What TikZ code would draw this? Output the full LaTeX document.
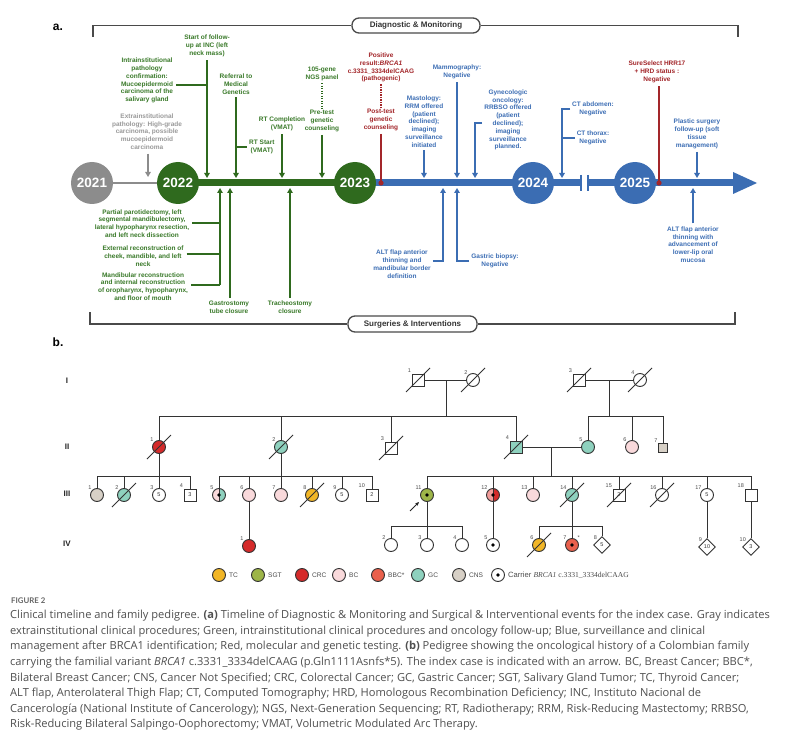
\documentclass[tikz,border=0pt]{standalone}
\usepackage{fontspec}
\setmainfont{Liberation Sans}
\newfontfamily\tlf{Liberation Sans}
\newfontfamily\capf{Open Sans}
\newfontfamily\figf{Lato}
\newfontfamily\serf{Liberation Serif}
\usetikzlibrary{arrows.meta,shapes.geometric}
\definecolor{tgray}{HTML}{8C8C8C}
\definecolor{txgray}{HTML}{9A9A9A}
\definecolor{tgrn}{HTML}{2F6A1E}
\definecolor{tgrntx}{HTML}{3A7A2A}
\definecolor{tblu}{HTML}{3B6DB3}
\definecolor{tblutx}{HTML}{3E6FB5}
\definecolor{tred}{HTML}{A3262A}
\definecolor{brk}{HTML}{4A4A4A}
\definecolor{cTC}{HTML}{F2B626}
\definecolor{cSGT}{HTML}{9DB548}
\definecolor{cCRC}{HTML}{D52A2A}
\definecolor{cBC}{HTML}{F9D9DB}
\definecolor{cBBC}{HTML}{E9604C}
\definecolor{cGC}{HTML}{8ED1BE}
\definecolor{cCNS}{HTML}{D7D0C6}
\definecolor{cBCd}{HTML}{F19C9A}
\definecolor{pline}{HTML}{333333}
\definecolor{capc}{HTML}{4F4F4F}
\newcommand\pdec[1]{\draw[pl] ([shift={(-12,12)}]#1.center) -- ([shift={(12,-12)}]#1.center);}
\begin{document}
\begin{tikzpicture}[x=1pt,y=-1pt,
  tl/.style={font=\tlf\bfseries\fontsize{6.5}{7.8}\selectfont, align=center, inner sep=0pt},
  gt/.style={tl,text=tgrntx}, bt/.style={tl,text=tblutx}, rt/.style={tl,text=tred}, xt/.style={tl,text=txgray},
  ar/.style={-{Triangle[length=5pt,width=5.5pt]}, line width=1.3pt},
  garr/.style={ar,draw=tgrn}, barr/.style={ar,draw=tblu}, xarr/.style={ar,draw=tgray},
  gln/.style={line width=1.3pt,draw=tgrn}, bln/.style={line width=1.3pt,draw=tblu}, rln/.style={line width=1.3pt,draw=tred},
  yr/.style={circle, minimum size=42pt, inner sep=0pt, font=\tlf\bfseries\fontsize{13.5}{14}\selectfont, text=white},
  bk/.style={line width=1.3pt, draw=brk},
  lbox/.style={draw=brk, line width=1.3pt, rounded corners=7pt, minimum height=15pt, inner sep=0pt, font=\tlf\bfseries\fontsize{8}{9}\selectfont, text=black!80, fill=white},
  pl/.style={draw=pline, line width=0.9pt},
  pbase/.style={draw=pline, line width=0.9pt, inner sep=0pt, fill=white, font=\tlf\fontsize{5.5}{6}\selectfont, text=pline},
  ci/.style={pbase, circle, minimum size=13pt},
  sq/.style={pbase, rectangle, minimum size=12pt},
  dm/.style={pbase, diamond, minimum size=17pt},
  lab/.style={font=\tlf\fontsize{5.5}{6}\selectfont, text=black!70, inner sep=0.5pt},
  half/.style 2 args={fill=#2, path picture={\fill[#1] (path picture bounding box.north west) rectangle (path picture bounding box.south); \draw[pline, line width=0.5pt] (path picture bounding box.north) -- (path picture bounding box.south);}},
  lgt/.style={font=\tlf\fontsize{6.6}{7}\selectfont, text=black!70, anchor=west, inner sep=0pt},
  genl/.style={font=\tlf\bfseries\fontsize{8}{9}\selectfont, text=black!85}
]
\useasboundingbox (0,0) rectangle (800,738);
\fill[white] (0,0) rectangle (800,738);

% panel letters
\node[font=\tlf\bfseries\fontsize{12}{13}\selectfont] (la) at (58,27) {a.};
\node[font=\tlf\bfseries\fontsize{12}{13}\selectfont] (lb) at (58,342) {b.};

% brackets
\node[lbox, minimum width=128pt] (dmb) at (416,25.5) {Diagnostic \& Monitoring};
\coordinate (dl) at (93,37); \coordinate (dr) at (738,37);
\draw[bk] (dl) |- (dmb.west);
\draw[bk] (dmb.east) -| (dr);
\node[lbox, minimum width=129pt, minimum height=16pt] (sib) at (412.5,324) {Surgeries \& Interventions};
\coordinate (sl) at (90,312); \coordinate (sr) at (735,312);
\draw[bk] (sl) |- (sib.west);
\draw[bk] (sib.east) -| (sr);

% axis
\coordinate (c21) at (92,183); \coordinate (c22) at (178,183); \coordinate (c23) at (355,183);
\coordinate (c24) at (533,183); \coordinate (c25) at (635,183);
\coordinate (bk1) at (581,183); \coordinate (bk2) at (588,183); \coordinate (ahd) at (735,183);
\draw[tgray, line width=1.5pt] (c21) -- (c22);
\draw[tgrn, line width=7pt] (c22) -- (c23);
\draw[tblu, line width=7pt] (c23) -- (bk1);
\draw[tblu, line width=7pt] (bk2) -- (ahd);
\fill[tblu] (733,172) -- (757,183) -- (733,194) -- cycle;
\draw[tblu, line width=1.6pt] ([yshift=8pt]bk1) -- ([yshift=-8pt]bk1);
\draw[tblu, line width=1.6pt] ([yshift=8pt]bk2) -- ([yshift=-8pt]bk2);
\node[yr, fill=tgray] (y21) at (c21) {2021};
\node[yr, fill=tgrn] (y22) at (c22) {2022};
\node[yr, fill=tgrn] (y23) at (c23) {2023};
\node[yr, fill=tblu] (y24) at (c24) {2024};
\node[yr, fill=tblu] (y25) at (c25) {2025};
\coordinate (rd1) at (381,183); \coordinate (rd2) at (659,183);

% gray
\node[xt] (g1) at (147,131.5) {Extrainstitutional\\pathology: High-grade\\carcinoma, possible\\mucoepidermoid\\carcinoma};
\coordinate (ag) at (148,177);
\draw[xarr] ([yshift=-4pt]ag |- g1.south) -- (ag);

% green top
\node[gt] (t1) at (147,80.5) {Intrainstitutional\\pathology\\confirmation:\\Mucoepidermoid\\carcinoma of the\\salivary gland};
\node[gt] (t2) at (207,46) {Start of follow-\\up at INC (left\\neck mass)};
\coordinate (a2) at (207,178); \coordinate (j1) at (207,85);
\draw[garr] ([yshift=-3pt]t2.south) -- (a2);
\draw[gln] ([xshift=3pt]t1.east |- j1) -- (j1);
\node[gt] (t3) at (236,84) {Referral to\\Medical\\Genetics};
\coordinate (a3) at (236,178);
\draw[garr] ([yshift=-3pt]t3.south) -- (a3);
\node[gt, anchor=west] (t4) at (249,147) {RT Start\\(VMAT)};
\draw[gln] (a3 |- t4.west) -- ([xshift=-2pt]t4.west);
\node[gt] (t5) at (282,124) {RT Completion\\(VMAT)};
\coordinate (a5) at (282,178);
\draw[garr] ([yshift=-3pt]t5.south) -- (a5);
\node[gt] (t6) at (322,74) {105-gene\\NGS panel};
\node[gt] (t7) at (322,121) {Pre-test\\genetic\\counseling};
\coordinate (a7) at (322,178);
\draw[gln, dash pattern=on 1.4pt off 1.1pt] ([yshift=-2pt]t6.south) -- ([yshift=2pt]t7.north);
\draw[garr] ([yshift=-3pt]t7.south) -- (a7);

% red
\node[rt] (r1t) at (381,67.5) {Positive\\result:\textit{BRCA1}\\c.3331\_3334delCAAG\\(pathogenic)};
\node[rt] (r2t) at (381,120) {Post-test\\genetic\\counseling};
\draw[rln, dash pattern=on 1.4pt off 1.1pt] ([yshift=-2pt]r1t.south) -- ([yshift=2pt]r2t.north);
\draw[rln] ([yshift=-3pt]r2t.south) -- (rd1);
\node[rt] (r3t) at (657,72) {SureSelect HRR17\\+ HRD status :\\Negative};
\draw[rln] ([yshift=-3pt]rd2 |- r3t.south) -- (rd2);
\fill[tred] (rd1) circle (2.6pt);
\fill[tred] (rd2) circle (2.6pt);

% blue top
\node[bt] (b1) at (424,121.5) {Mastology:\\RRM offered\\(patient\\declined);\\imaging\\surveillance\\initiated};
\coordinate (ab1) at (424,178);
\draw[barr] ([yshift=-3pt]b1.south) -- (ab1);
\node[bt] (b2) at (457,72) {Mammography:\\Negative};
\coordinate (ab2) at (457,178);
\draw[barr] ([yshift=-3pt]b2.south) -- (ab2);
\node[bt] (b3) at (508,120) {Gynecologic\\oncology:\\RRBSO offered\\(patient\\declined);\\imaging\\surveillance\\planned.};
\coordinate (ab3) at (475,178); \coordinate (jb3) at (475,123);
\draw[barr] ([xshift=-2pt]b3.west |- jb3) -| (ab3);
\node[bt] (b4) at (593,109) {CT abdomen:\\Negative};
\node[bt] (b5) at (593,138) {CT thorax:\\Negative};
\coordinate (ab4) at (562,178);
\draw[barr] ([xshift=-2pt]b4.west) -| (ab4);
\draw[bln] ([xshift=-2pt]b5.west) -- (ab4 |- b5.west);
\node[bt] (b6) at (697,134) {Plastic surgery\\follow-up (soft\\tissue\\management)};
\coordinate (ab6) at (697,178);
\draw[barr] ([yshift=-3pt]b6.south) -- (ab6);

% green bottom
\coordinate (u1) at (220,188); \coordinate (u1b) at (220,285);
\draw[garr] (u1b) -- (u1);
\node[gt] (s1) at (142,223.5) {Partial parotidectomy, left\\segmental mandibulectomy,\\lateral hypopharynx resection,\\and left neck dissection};
\node[gt] (s2) at (143,256) {External reconstruction of\\cheek, mandible, and left\\neck};
\node[gt] (s3) at (143,286.5) {Mandibular reconstruction\\and internal reconstruction\\of oropharynx, hypopharynx,\\and floor of mouth};
\coordinate (js1) at (220,223); \coordinate (js2) at (220,254);
\draw[gln] ([xshift=3pt]s1.east |- js1) -- (js1);
\draw[gln] ([xshift=3pt]s2.east |- js2) -- (js2);
\draw[gln] ([xshift=3pt]s3.east |- u1b) -- (u1b);
\node[gt] (s4) at (229,307) {Gastrostomy\\tube closure};
\coordinate (u2) at (230,188);
\draw[garr] ([yshift=3pt]u2 |- s4.north) -- (u2);
\node[gt] (s5) at (290,307) {Tracheostomy\\closure};
\coordinate (u3) at (290,188);
\draw[garr] ([yshift=3pt]s5.north) -- (u3);

% blue bottom
\node[bt] (s6) at (402,264) {ALT flap anterior\\thinning and\\mandibular border\\definition};
\coordinate (u6) at (443,188); \coordinate (ju6) at (443,261);
\draw[barr] ([xshift=2pt]s6.east |- ju6) -| (u6);
\node[bt] (s7) at (495,260.5) {Gastric biopsy:\\Negative};
\coordinate (u7) at (457,188);
\draw[barr] ([xshift=-2pt]s7.west |- ju6) -| (u7);
\node[bt] (s8) at (693,244.5) {ALT flap anterior\\thinning with\\advancement of\\lower-lip oral\\mucosa};
\coordinate (u8) at (693,188);
\draw[barr] ([yshift=3pt]s8.north) -- (u8);

% ================= pedigree =================
\node[genl] (gI) at (67,381) {I};
\node[genl] (gII) at (67,447) {II};
\node[genl] (gIII) at (67,494) {III};
\node[genl] (gIV) at (67,544) {IV};

% generation I
\coordinate (m1) at (446,380); \coordinate (s1c) at (446,416);
\coordinate (m2) at (609,380); \coordinate (s2c) at (609,416);
\draw[pl] (m1) -- (s1c); \draw[pl] (m2) -- (s2c);
\node[sq,label={[lab]135:1}] (i1) at (418,380) {};
\node[ci,label={[lab]135:2}] (i2) at (473,380) {};
\node[sq,label={[lab]135:3}] (i3) at (579,380) {};
\node[ci,label={[lab]135:4}] (i4) at (640,380) {};
\draw[pl] (i1) -- (i2); \draw[pl] (i3) -- (i4);

% generation II
\node[ci,fill=cCRC,label={[lab]135:1}] (ii1) at (159,447) {};
\node[ci,fill=cGC,label={[lab]135:2}] (ii2) at (281,447) {};
\node[sq,label={[lab]135:3}] (ii3) at (391,448) {};
\node[sq,fill=cGC,label={[lab]135:4}] (ii4) at (516,447) {};
\node[ci,fill=cGC,label={[lab]135:5}] (ii5) at (588,447) {};
\node[ci,fill=cBC,label={[lab]135:6}] (ii6) at (632,447) {};
\node[sq,fill=cCNS,minimum size=9pt,label={[lab]135:7}] (ii7) at (663,448) {};
\draw[pl] (ii1 |- s1c) -- (ii4 |- s1c);
\foreach \n in {ii1,ii2,ii3,ii4} \draw[pl] (\n |- s1c) -- (\n);
\draw[pl] (ii5 |- s2c) -- (ii7 |- s2c);
\foreach \n in {ii5,ii6,ii7} \draw[pl] (\n |- s2c) -- (\n);
\coordinate (m3) at (551,447); \coordinate (s3c) at (551,476);
\draw[pl] (ii4) -- (ii5);
\draw[pl] (m3) -- (s3c);

% generation III
\coordinate (s4c) at (159,476); \coordinate (s5c) at (281,476);
\node[ci,fill=cCNS,label={[lab]135:1}] (iii1) at (97,495) {};
\node[ci,fill=cGC,label={[lab]135:2}] (iii2) at (124,495) {};
\node[ci,label={[lab]135:3}] (iii3) at (159,495) {5};
\node[sq,label={[lab]135:4}] (iii4) at (190,495) {3};
\draw[pl] (ii1) -- (s4c);
\draw[pl] (iii1 |- s4c) -- (iii4 |- s4c);
\foreach \n in {iii1,iii2,iii3,iii4} \draw[pl] (\n |- s4c) -- (\n);

\node[ci,half={cBC}{cGC},label={[lab]135:5}] (iii5) at (219,495) {};
\node[ci,fill=cBC,label={[lab]135:6}] (iii6) at (249,495) {};
\node[ci,fill=cBC,label={[lab]135:7}] (iii7) at (281,495) {};
\node[ci,fill=cTC,label={[lab]135:8}] (iii8) at (312,495) {};
\node[ci,label={[lab]135:9}] (iii9) at (342,495) {5};
\node[sq,label={[lab]135:10}] (iii10) at (372,495) {2};
\draw[pl] (ii2) -- (s5c);
\draw[pl] (iii5 |- s5c) -- (iii10 |- s5c);
\foreach \n in {iii5,iii6,iii7,iii8,iii9,iii10} \draw[pl] (\n |- s5c) -- (\n);

\node[ci,fill=cSGT,label={[lab]135:11}] (iii11) at (427,495) {};
\node[ci,half={cBCd}{cCRC},label={[lab]135:12}] (iii12) at (493,495) {};
\node[ci,fill=cBC,label={[lab]135:13}] (iii13) at (533,495) {};
\node[ci,fill=cGC,label={[lab]135:14}] (iii14) at (572,495) {};
\node[sq,label={[lab]135:15}] (iii15) at (619,495) {2};
\node[ci,label={[lab]135:16}] (iii16) at (662,495) {};
\node[ci,label={[lab]135:17}] (iii17) at (707,495) {5};
\node[sq,label={[lab]135:18}] (iii18) at (751,495) {};
\draw[pl] (iii11 |- s3c) -- (iii18 |- s3c);
\foreach \n in {iii11,iii12,iii13,iii14,iii15,iii16,iii17,iii18} \draw[pl] (\n |- s3c) -- (\n);

% generation IV
\node[ci,fill=cCRC,label={[lab]135:1}] (iv1) at (249,546) {};
\draw[pl] (iii6) -- (iv1);
\coordinate (s6c) at (427,526); \coordinate (s7c) at (572,526);
\node[ci,label={[lab]135:2}] (iv2) at (391,545) {};
\node[ci,label={[lab]135:3}] (iv3) at (427,545) {};
\node[ci,label={[lab]135:4}] (iv4) at (462,545) {};
\draw[pl] (iii11) -- (s6c);
\draw[pl] (iv2 |- s6c) -- (iv4 |- s6c);
\foreach \n in {iv2,iv3,iv4} \draw[pl] (\n |- s6c) -- (\n);
\node[ci,label={[lab]135:5}] (iv5) at (493,545) {};
\draw[pl] (iii12) -- (iv5);
\node[ci,fill=cTC,label={[lab]135:6}] (iv6) at (539,545) {};
\node[ci,fill=cBBC,label={[lab]135:7},label={[lab]45:*}] (iv7) at (572,545) {};
\node[dm,label={[lab]135:8}] (iv8) at (602,545) {5};
\draw[pl] (iii14) -- (s7c);
\draw[pl] (iv6 |- s7c) -- (iv8 |- s7c);
\foreach \n in {iv6,iv7,iv8} \draw[pl] (\n |- s7c) -- (\n);
\node[dm,label={[lab]135:9}] (iv9) at (707,547) {10};
\node[dm,label={[lab]135:10}] (iv10) at (751,547) {3};
\draw[pl] (iii17) -- (iv9);
\draw[pl] (iii18) -- (iv10);

% deceased
\foreach \n in {i1,i2,i3,i4,ii1,ii2,ii3,ii4,iii2,iii8,iii14,iii15,iii16,iv6} {\pdec{\n}}
% carriers
\foreach \n in {iii5,iii11,iii12,iv5,iv7} {\fill[black] (\n) circle (1.9pt);}
% index arrow
\coordinate (ix) at (410,511);
\draw[-{Stealth[length=4pt,width=3.5pt]}, line width=0.9pt, black!85] (ix) -- ([shift={(-8,7)}]iii11.center);

% legend
\node[ci,fill=cTC] (lg1) at (219,575) {}; \node[lgt] (lt1) at (229,575) {TC};
\node[ci,fill=cSGT] (lg2) at (258,575) {}; \node[lgt] (lt2) at (268,575) {SGT};
\node[ci,fill=cCRC] (lg3) at (302,575) {}; \node[lgt] (lt3) at (312,575) {CRC};
\node[ci,fill=cBC] (lg4) at (339,575) {}; \node[lgt] (lt4) at (349,575) {BC};
\node[ci,fill=cBBC] (lg5) at (378,575) {}; \node[lgt] (lt5) at (388,575) {BBC*};
\node[ci,fill=cGC] (lg6) at (418,575) {}; \node[lgt] (lt6) at (428,575) {GC};
\node[ci,fill=cCNS] (lg7) at (459,575) {}; \node[lgt] (lt7) at (469,575) {CNS};
\node[ci] (lg8) at (498,575) {}; \fill[black] (lg8) circle (1.9pt);
\node[lgt, font=\tlf\fontsize{7.6}{8}\selectfont] (lt8) at (508,575) {Carrier {\serf\itshape BRCA1} {\serf c.3331\_3334delCAAG}};

% caption
\node[anchor=west, font=\figf\bfseries\fontsize{7.8}{8}\selectfont, text=black!60, inner sep=0pt] (fig) at (11,601) {FIGURE 2};
\node[anchor=north west, align=left, inner sep=0pt, font=\capf\fontsize{11.1}{15.6}\selectfont, text=capc] (cap) at (10,610) {Clinical timeline and family pedigree. \textbf{(a)} Timeline of Diagnostic \& Monitoring and Surgical \& Interventional events for the index case. Gray indicates\\
extrainstitutional clinical procedures; Green, intrainstitutional clinical procedures and oncology follow-up; Blue, surveillance and clinical\\
management after BRCA1 identification; Red, molecular and genetic testing. \textbf{(b)} Pedigree showing the oncological history of a Colombian family\\
carrying the familial variant \textit{BRCA1} c.3331\_3334delCAAG (p.Gln1111Asnfs*5). The index case is indicated with an arrow. BC, Breast Cancer; BBC*,\\
Bilateral Breast Cancer; CNS, Cancer Not Specified; CRC, Colorectal Cancer; GC, Gastric Cancer; SGT, Salivary Gland Tumor; TC, Thyroid Cancer;\\
ALT flap, Anterolateral Thigh Flap; CT, Computed Tomography; HRD, Homologous Recombination Deficiency; INC, Instituto Nacional de\\
Cancerología (National Institute of Cancerology); NGS, Next-Generation Sequencing; RT, Radiotherapy; RRM, Risk-Reducing Mastectomy; RRBSO,\\
Risk-Reducing Bilateral Salpingo-Oophorectomy; VMAT, Volumetric Modulated Arc Therapy.};
\end{tikzpicture}
\end{document}
